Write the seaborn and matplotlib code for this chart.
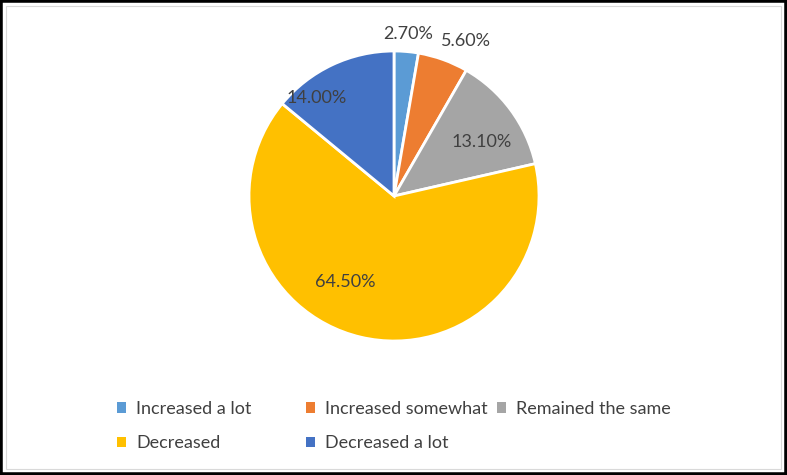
import matplotlib
matplotlib.use("Agg")
import matplotlib.pyplot as plt
import seaborn as sns
import numpy as np
from matplotlib.patches import Rectangle, Patch

sns.set_theme(style="white")
plt.rcParams['font.family'] = ['Lato', 'DejaVu Sans']

categories = ["Increased a lot", "Increased somewhat", "Remained the same", "Decreased", "Decreased a lot"]
values = [2.70, 5.60, 13.10, 64.50, 14.00]
colors = ["#5B9BD5", "#ED7D31", "#A5A5A5", "#FFC000", "#4472C4"]
labels = [f"{v:.2f}%" for v in values]

# label placement (radial distance, angle offset in degrees) per slice
label_layout = [(1.12, 0), (1.18, -5), (0.71, -5), (0.68, -16), (0.86, 13)]

W, H = 787, 475
fig = plt.figure(figsize=(W / 100, H / 100), dpi=100)
fig.patch.set_facecolor("white")

cx, cy, r = 394, 196, 145
ax = fig.add_axes([(cx - r) / W, (H - cy - r) / H, 2 * r / W, 2 * r / H])
wedges, _ = ax.pie(values, colors=colors, startangle=90, counterclock=False,
                   radius=1.0, wedgeprops=dict(edgecolor="white", linewidth=2))
ax.set_xlim(-1, 1)
ax.set_ylim(-1, 1)
ax.set_aspect("equal")
ax.axis("off")

FS = 13
for w, lab, (d, off) in zip(wedges, labels, label_layout):
    ang = np.deg2rad((w.theta1 + w.theta2) / 2 + off)
    ax.text(d * np.cos(ang), d * np.sin(ang), lab, ha="center", va="center",
            fontsize=FS, color="#404040", clip_on=False)

handles = [Patch(facecolor=c, edgecolor="none") for c in colors]
# legend columns (row-major order like the reference)
columns = [[0, 3], [1, 4], [2]]
col_x = [117, 306, 497]
for idxs, x0 in zip(columns, col_x):
    fig.legend([handles[i] for i in idxs], [categories[i] for i in idxs],
               loc="upper left", bbox_to_anchor=(x0 / W, 1 - 401 / H),
               frameon=False, fontsize=FS, handlelength=0.5, handleheight=0.5,
               handletextpad=0.55, labelspacing=1.02, borderpad=0, borderaxespad=0,
               labelcolor="#404040")

fig.patches.append(Rectangle((0, 0), 1, 1, transform=fig.transFigure, fill=False,
                             edgecolor="black", linewidth=4, zorder=10))
fig.patches.append(Rectangle((6 / W, 6 / H), 1 - 12 / W, 1 - 12 / H, transform=fig.transFigure,
                             fill=False, edgecolor="#D9D9D9", linewidth=0.8, zorder=10))

fig.savefig("out.png", dpi=100)
